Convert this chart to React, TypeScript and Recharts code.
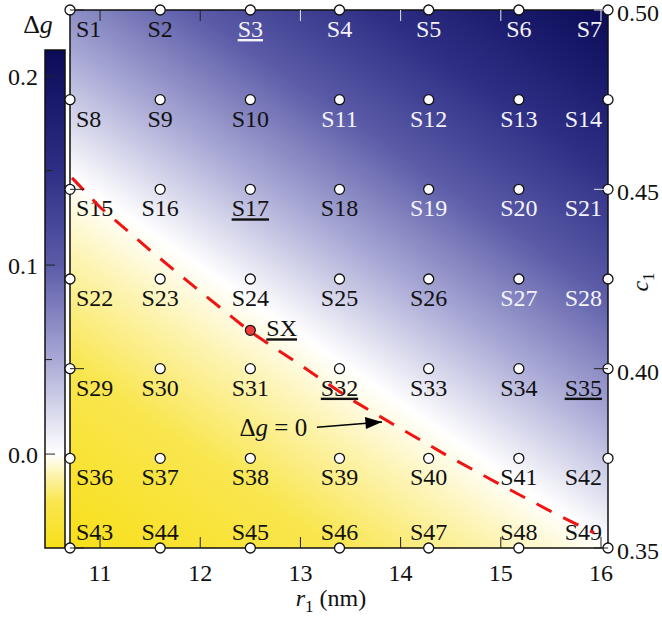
import React from 'react'
import { Bar, BarChart, ComposedChart, ReferenceArea, Scatter, XAxis, YAxis } from 'recharts'

// grid of structures S1..S49 (rows top to bottom)
const r1Grid = [10.7, 11.6, 12.5, 13.39, 14.28, 15.18, 16.07]
const c1Grid = [0.5, 0.475, 0.45, 0.425, 0.4, 0.375, 0.35]
const whiteLabels = ['S3', 'S4', 'S5', 'S6', 'S7', 'S11', 'S12', 'S13', 'S14', 'S19', 'S20', 'S21', 'S27', 'S28']
const underlined = ['S3', 'S17', 'S32', 'S35', 'SX']

// dashed Δg = 0 boundary
const boundaryR1 = [10.72, 11.0, 11.5, 12.0, 12.5, 13.0, 13.5, 14.0, 14.5, 15.0, 15.5, 15.93]
const boundaryC1 = [0.4532, 0.445, 0.433, 0.4215, 0.4103, 0.401, 0.3915, 0.3833, 0.3752, 0.3676, 0.3602, 0.3542]

const sxPoint = [{ r1: 12.5, c1: 0.4107, name: 'SX' }]
const arrowLine = [{ r1: 13.165, c1: 0.3837 }, { r1: 13.814, c1: 0.3851 }]
const annotation = [{ r1: 12.73, c1: 0.3812 }]

const r1Ticks = [11, 12, 13, 14, 15, 16]
const c1Ticks = [0.35, 0.4, 0.45, 0.5]
const dgTicks = [0, 0.05, 0.1, 0.15, 0.2]
const dgMajor = [0, 0.1, 0.2]
const dgDomain = [-0.0497, 0.2138]

// colormap: Δg value -> colour
const cmapValues = [-0.05, -0.025, -0.01, 0, 0.05, 0.1, 0.15, 0.214]
const cmapColors = ['#f8e01a', '#f9e650', '#fdf4b4', '#ffffff', '#a9a9d6', '#5b5ba8', '#2e2e85', '#0b0b58']

const FONT = { fontFamily: 'Liberation Serif' }
const PLOT = { left: 70, top: 10, right: 608, bottom: 548 }

const points = c1Grid.flatMap((c1, row) =>
  r1Grid.map((r1, col) => ({ r1, c1, row, col, name: `S${row * 7 + col + 1}` })),
)
const boundary = boundaryR1.map((r1, i) => ({ r1, c1: boundaryC1[i] }))
const barData = [{ name: 'cb', range: dgDomain }]

// position of each colour along the field gradient (bottom-left -> top-right)
const NEG = 0.57
const POS = 0.819
const fieldOffset = (v: number) =>
  v >= 0 ? (NEG + (v / 0.214) * POS) / (NEG + POS) : (NEG + (v / 0.05) * NEG) / (NEG + POS)
const barOffset = (v: number) => (v - dgDomain[0]) / (dgDomain[1] - dgDomain[0])

const PointLabel = (props: any) => {
  const { cx, cy, payload } = props
  const { col, row, name } = payload
  const anchor = col === 0 ? 'start' : col === 6 ? 'end' : 'middle'
  const x = col === 0 ? cx + 6 : col === 6 ? cx - 6 : cx
  const y = row === 6 ? cy - 8 : cy + 27
  return (
    <text
      x={x}
      y={y}
      textAnchor={anchor}
      style={FONT}
      fontSize={24}
      fill={whiteLabels.includes(name) ? '#f4f4fa' : '#111'}
      textDecoration={underlined.includes(name) ? 'underline' : undefined}
    >
      {name}
    </text>
  )
}

const Dot = (props: any) => (
  <circle cx={props.cx} cy={props.cy} r={5} fill="#fff" stroke="#111" strokeWidth={1.3} />
)

const SxDot = (props: any) => (
  <g>
    <circle cx={props.cx} cy={props.cy} r={5} fill="#ef3b3b" stroke="#111" strokeWidth={1.2} />
    <text x={props.cx + 16} y={props.cy + 6} style={FONT} fontSize={24} fill="#111" textDecoration="underline">
      {props.payload.name}
    </text>
  </g>
)

const ArrowHead = (props: any) =>
  props.index === 1 ? (
    <polygon
      points={`${props.cx},${props.cy} ${props.cx - 17},${props.cy - 5} ${props.cx - 16},${props.cy + 7}`}
      fill="#000"
    />
  ) : (
    <g />
  )

const AnnotationText = (props: any) => (
  <text x={props.cx} y={props.cy} textAnchor="middle" style={FONT} fontSize={25} fill="#111">
    Δ<tspan fontStyle="italic">g</tspan> = 0
  </text>
)

const XTick = (props: any) => {
  const { x, payload } = props
  const v = payload.value
  return (
    <g>
      <line x1={x} x2={x} y1={PLOT.bottom} y2={PLOT.bottom - 11} stroke="#222" />
      <line x1={x} x2={x} y1={PLOT.top} y2={PLOT.top + 11} stroke={v >= 13 ? '#e6e6f2' : '#222'} />
      <text x={x} y={581} textAnchor="middle" style={FONT} fontSize={24} fill="#111">
        {v}
      </text>
    </g>
  )
}

const YTick = (props: any) => {
  const { y, payload } = props
  const v = payload.value
  return (
    <g>
      <line x1={PLOT.right} x2={PLOT.right - 14} y1={y} y2={y} stroke={v >= 0.45 ? '#e6e6f2' : '#222'} />
      <line x1={PLOT.left} x2={PLOT.left + 14} y1={y} y2={y} stroke="#222" />
      <text x={617} y={y + 11} style={FONT} fontSize={24} fill="#111">
        {v.toFixed(2)}
      </text>
    </g>
  )
}

const BarTick = (props: any) => {
  const { y, payload } = props
  const v = payload.value
  const major = dgMajor.includes(v)
  return (
    <g>
      <line x1={45} x2={45 + (major ? 10 : 7)} y1={y} y2={y} stroke="#222" />
      {major && (
        <text x={38} y={y + 9} textAnchor="end" style={FONT} fontSize={24} fill="#111">
          {v.toFixed(1)}
        </text>
      )}
    </g>
  )
}

const XTitle = (props: any) => {
  const vb = props.viewBox
  return (
    <text x={vb.x + vb.width / 2 - 8} y={606} textAnchor="middle" style={FONT} fontSize={24} fill="#111">
      <tspan fontStyle="italic">r</tspan>
      <tspan dy={6} fontSize={17}>1</tspan>
      <tspan dy={-6}> (nm)</tspan>
    </text>
  )
}

const YTitle = () => (
  <text x={648} y={282} textAnchor="middle" transform="rotate(-90 648 282)" style={FONT} fontSize={24} fill="#111">
    <tspan fontStyle="italic">c</tspan>
    <tspan dy={6} fontSize={17}>1</tspan>
  </text>
)

const BarTitle = () => (
  <text x={38} y={33} textAnchor="middle" style={FONT} fontSize={26} fill="#111">
    Δ<tspan fontStyle="italic">g</tspan>
  </text>
)

export default function App() {
  return (
    <div style={{ position: 'absolute', left: 0, top: 0, width: 662, height: 620, background: '#fff' }}>
      <div style={{ position: 'absolute', left: 0, top: 0 }}>
        <BarChart width={70} height={620} data={barData} margin={{ top: 50, right: 5, bottom: 72, left: 0 }} barCategoryGap={0}>
          <defs>
            <linearGradient id="cbGrad" x1="0" y1="1" x2="0" y2="0">
              {cmapValues.map((v, i) => (
                <stop key={v} offset={barOffset(v)} stopColor={cmapColors[i]} />
              ))}
            </linearGradient>
          </defs>
          <XAxis dataKey="name" hide />
          <YAxis
            type="number"
            domain={dgDomain}
            ticks={dgTicks}
            interval={0}
            width={45}
            axisLine={false}
            tickLine={false}
            tick={<BarTick />}
            label={<BarTitle />}
          />
          <Bar dataKey="range" fill="url(#cbGrad)" stroke="#111" strokeWidth={1.5} isAnimationActive={false} />
        </BarChart>
      </div>
      <div style={{ position: 'absolute', left: 0, top: 0 }}>
        <ComposedChart width={662} height={620} margin={{ top: 10, right: 4, bottom: 42, left: 70 }}>
          <defs>
            <linearGradient id="fieldGrad" x1="0" y1="1" x2="0.783" y2="-0.146">
              {cmapValues.map((v, i) => (
                <stop key={v} offset={fieldOffset(v)} stopColor={cmapColors[i]} />
              ))}
            </linearGradient>
          </defs>
          <ReferenceArea
            x1={r1Grid[0]}
            x2={r1Grid[6]}
            y1={c1Grid[6]}
            y2={c1Grid[0]}
            fill="url(#fieldGrad)"
            fillOpacity={1}
            stroke="#111"
            strokeWidth={1.5}
          />
          <XAxis
            type="number"
            dataKey="r1"
            domain={[r1Grid[0], r1Grid[6]]}
            ticks={r1Ticks}
            interval={0}
            height={30}
            axisLine={false}
            tickLine={false}
            tick={<XTick />}
            label={<XTitle />}
          />
          <YAxis
            type="number"
            dataKey="c1"
            orientation="right"
            domain={[c1Grid[6], c1Grid[0]]}
            ticks={c1Ticks}
            interval={0}
            width={50}
            axisLine={false}
            tickLine={false}
            tick={<YTick />}
            label={<YTitle />}
          />
          <Scatter data={points} shape={<PointLabel />} isAnimationActive={false} />
          <Scatter
            data={boundary}
            line={{ stroke: '#f01414', strokeWidth: 3, strokeDasharray: '17 13' }}
            shape={() => <g />}
            isAnimationActive={false}
          />
          <Scatter
            data={arrowLine}
            line={{ stroke: '#000', strokeWidth: 1.5 }}
            shape={<ArrowHead />}
            isAnimationActive={false}
          />
          <Scatter data={annotation} shape={<AnnotationText />} isAnimationActive={false} />
          <Scatter data={points} shape={<Dot />} isAnimationActive={false} />
          <Scatter data={sxPoint} shape={<SxDot />} isAnimationActive={false} />
        </ComposedChart>
      </div>
    </div>
  )
}
